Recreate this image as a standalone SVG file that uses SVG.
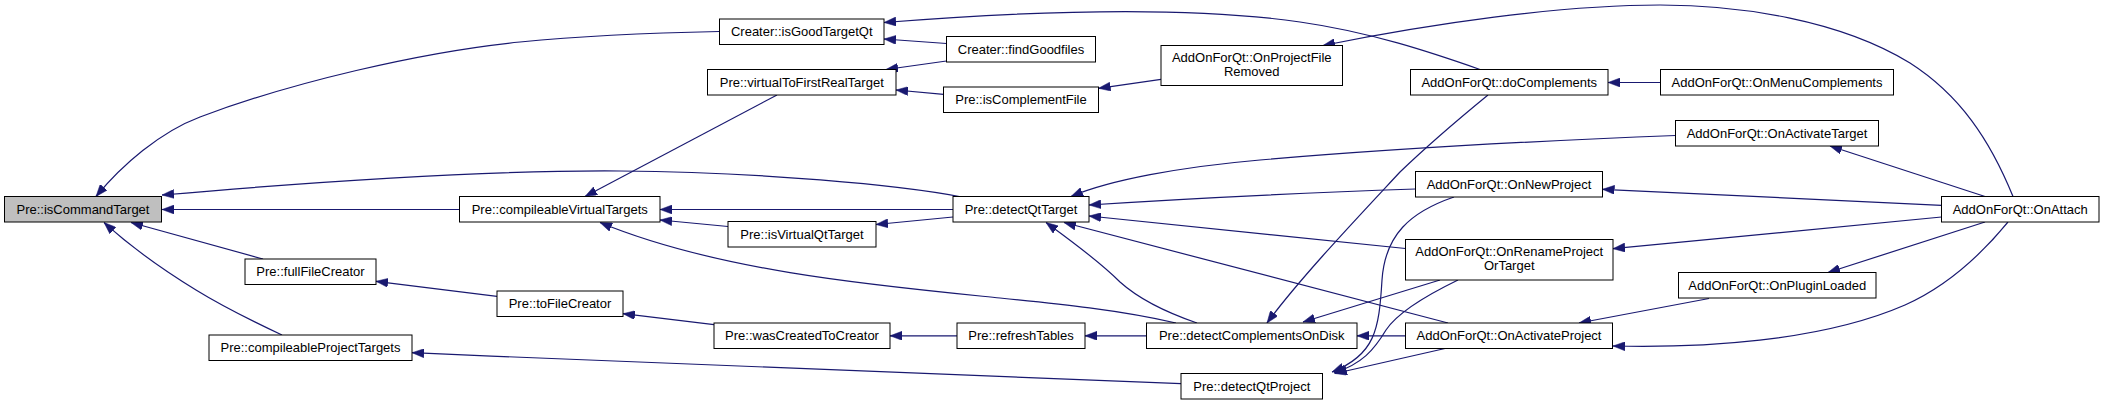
<svg xmlns="http://www.w3.org/2000/svg" width="2104" height="405" viewBox="0 0 2104 405">
<defs>
<style>
.node rect{fill:#ffffff;stroke:#000000;stroke-width:1}
.node.hl rect{fill:#bfbfbf}
.node text{font-family:"Liberation Sans",Arial,Helvetica,sans-serif;font-size:13px;fill:#000000;text-anchor:middle}
#edges path{fill:none;stroke:#191970;stroke-width:1.2;marker-end:url(#ah)}
</style>
<marker id="ah" viewBox="0 0 12 9" refX="12" refY="4.5" markerWidth="12" markerHeight="9" markerUnits="userSpaceOnUse" orient="auto">
<path d="M0,0 L12,4.5 L0,9 z" fill="#191970" stroke="#191970" stroke-width="0.5"/>
</marker>
</defs>
<rect x="0" y="0" width="2104" height="405" fill="#ffffff"/>
<g id="edges">
<path d="M719,31.5 C640,33 580,36 520,42 C420,52 290,83 200,117 C160,132 122,165 96,196.5"/>
<path d="M962,197 C900,185 760,172 620,171 C480,170 300,183 162,195"/>
<path d="M459.5,209.5 L162,209.5"/>
<path d="M263,259 L131,222.5"/>
<path d="M282,335 C250,320 222,306 196,290 C160,268 130,246 104,222.5"/>
<path d="M777,95 L585,196.5"/>
<path d="M953,209.5 L660,209.5"/>
<path d="M728,226.5 L660,220"/>
<path d="M1176,323 C1120,310 1060,304 1000,298 C880,286 720,272 600,222.5"/>
<path d="M1197,323 C1165,312 1140,300 1120,282 C1098,260 1070,240 1046,222.5"/>
<path d="M953,217 L876,224.5"/>
<path d="M1675.5,135.5 C1560,140 1400,148 1260,160 C1180,167 1110,180 1071,196.5"/>
<path d="M1415.5,189 C1300,193 1180,199 1089,205"/>
<path d="M1405.5,248.5 L1089,216"/>
<path d="M1448,323 L1064,222.5"/>
<path d="M946.5,43.5 L884,39"/>
<path d="M1480,69.5 C1430,52 1370,32 1300,22 C1190,6 1040,10 884,22.5"/>
<path d="M946.5,61 L886,69.5"/>
<path d="M943.5,94.3 L896,90"/>
<path d="M1161,79.3 L1098.5,88.3"/>
<path d="M2013,196.5 C1990,140 1960,95 1910,63 C1840,20 1740,5 1660,5 C1560,5 1430,24 1323,45.5"/>
<path d="M1660.5,82.5 L1608,82.5"/>
<path d="M1488,95 C1455,122 1425,148 1400,172 C1360,215 1300,278 1267,323"/>
<path d="M1146.5,335.8 L1085,335.8"/>
<path d="M957,335.8 L890,335.8"/>
<path d="M714,324.7 L623,313.7"/>
<path d="M497,296.3 L376,281.3"/>
<path d="M1181,383.7 C1000,377 700,365 412,352.7"/>
<path d="M1454,197 C1410,212 1385,235 1382,280 C1379,330 1375,355 1332,372"/>
<path d="M1458,280 C1425,296 1398,312 1386,330 C1374,350 1362,364 1334,373"/>
<path d="M1440,280 L1303,322"/>
<path d="M1405.5,335.8 L1357,335.8"/>
<path d="M1445,348.5 L1335,373.5"/>
<path d="M1985,196.5 L1830,146"/>
<path d="M1941.5,205.3 L1602.5,189.3"/>
<path d="M1941.5,217 L1613,248.7"/>
<path d="M1985,222 L1828,272.5"/>
<path d="M2008,222 C1985,250 1950,285 1905,305 C1820,342 1700,348 1613,346"/>
<path d="M1709,298.5 L1579,323"/>
</g>
<g id="n1" class="node hl"><rect x="4.5" y="196.5" width="157" height="25.5"/><text x="83" y="213.7">Pre::isCommandTarget</text></g>
<g id="n2" class="node"><rect x="719.5" y="19" width="164.5" height="25.5"/><text x="801.75" y="36.2">Creater::isGoodTargetQt</text></g>
<g id="n3" class="node"><rect x="946.5" y="36.5" width="149" height="25.5"/><text x="1021" y="53.7">Creater::findGoodfiles</text></g>
<g id="n4" class="node"><rect x="707.5" y="69.5" width="188.5" height="25.5"/><text x="801.75" y="86.7">Pre::virtualToFirstRealTarget</text></g>
<g id="n5" class="node"><rect x="943.5" y="87" width="155" height="25.5"/><text x="1021" y="104.2">Pre::isComplementFile</text></g>
<g id="n6" class="node"><rect x="1161" y="45.5" width="181.5" height="40"/><text x="1251.75" y="61.8">AddOnForQt::OnProjectFile</text><text x="1251.75" y="76.2">Removed</text></g>
<g id="n7" class="node"><rect x="1410.5" y="69.5" width="197.5" height="25.5"/><text x="1509.25" y="86.7">AddOnForQt::doComplements</text></g>
<g id="n8" class="node"><rect x="1660.5" y="69.5" width="233" height="25.5"/><text x="1777" y="86.7">AddOnForQt::OnMenuComplements</text></g>
<g id="n9" class="node"><rect x="1675.5" y="120.5" width="203" height="25.5"/><text x="1777" y="137.7">AddOnForQt::OnActivateTarget</text></g>
<g id="n10" class="node"><rect x="459.5" y="196.5" width="200.5" height="25.5"/><text x="559.75" y="213.7">Pre::compileableVirtualTargets</text></g>
<g id="n11" class="node"><rect x="953" y="196.5" width="136" height="25.5"/><text x="1021" y="213.7">Pre::detectQtTarget</text></g>
<g id="n12" class="node"><rect x="1415.5" y="171.5" width="187" height="25.5"/><text x="1509" y="188.7">AddOnForQt::OnNewProject</text></g>
<g id="n13" class="node"><rect x="1941.5" y="196.5" width="157.5" height="25.5"/><text x="2020.25" y="213.7">AddOnForQt::OnAttach</text></g>
<g id="n14" class="node"><rect x="728" y="221.5" width="148" height="25.5"/><text x="802" y="238.7">Pre::isVirtualQtTarget</text></g>
<g id="n15" class="node"><rect x="1405.5" y="239.5" width="207.5" height="40.5"/><text x="1509.25" y="255.8">AddOnForQt::OnRenameProject</text><text x="1509.25" y="270.2">OrTarget</text></g>
<g id="n16" class="node"><rect x="245" y="259" width="131" height="25.5"/><text x="310.5" y="276.2">Pre::fullFileCreator</text></g>
<g id="n17" class="node"><rect x="1678.5" y="272.5" width="197.5" height="25.5"/><text x="1777.25" y="289.7">AddOnForQt::OnPluginLoaded</text></g>
<g id="n18" class="node"><rect x="497" y="291" width="126" height="25.5"/><text x="560" y="308.2">Pre::toFileCreator</text></g>
<g id="n19" class="node"><rect x="714" y="323" width="176" height="25.5"/><text x="802" y="340.2">Pre::wasCreatedToCreator</text></g>
<g id="n20" class="node"><rect x="957" y="323" width="128" height="25.5"/><text x="1021" y="340.2">Pre::refreshTables</text></g>
<g id="n21" class="node"><rect x="1146.5" y="323" width="210.5" height="25.5"/><text x="1251.75" y="340.2">Pre::detectComplementsOnDisk</text></g>
<g id="n22" class="node"><rect x="1405.5" y="323" width="207" height="25.5"/><text x="1509" y="340.2">AddOnForQt::OnActivateProject</text></g>
<g id="n23" class="node"><rect x="209" y="335" width="203" height="25.5"/><text x="310.5" y="352.2">Pre::compileableProjectTargets</text></g>
<g id="n24" class="node"><rect x="1181" y="373.5" width="141.5" height="25.5"/><text x="1251.75" y="390.7">Pre::detectQtProject</text></g>
</svg>
